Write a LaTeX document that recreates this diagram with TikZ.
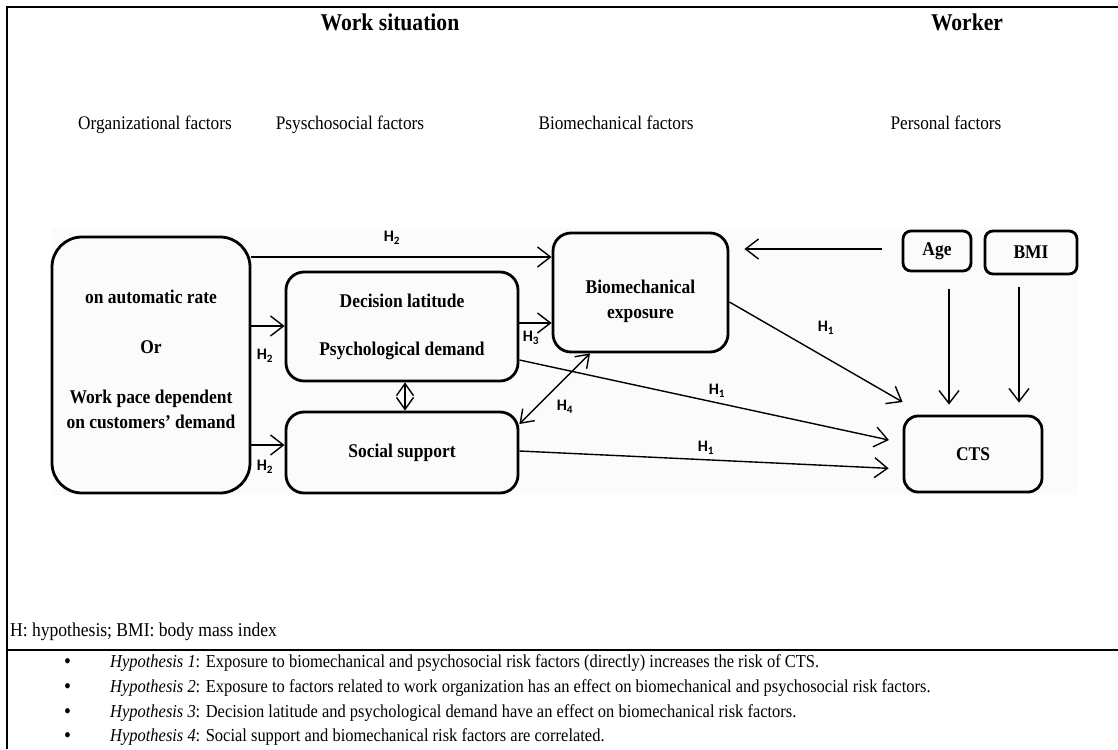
\documentclass[tikz,border=0pt]{standalone}
\usepackage{fontspec}
\setmainfont{Liberation Serif}[FakeStretch=0.9]
\newfontfamily\hfont{Carlito}
\usetikzlibrary{arrows.meta}
\begin{document}
\begin{tikzpicture}[x=1pt,y=-1pt,
  box/.style={draw, line width=2.8pt, rounded corners=#1, inner sep=0pt},
  box/.default=18pt,
  btxt/.style={font=\fontsize{19.4}{25}\selectfont\bfseries, align=center, inner sep=0pt},
  head/.style={font=\fontsize{24}{28}\selectfont\bfseries, inner sep=0pt},
  sub/.style={font=\fontsize{19.2}{22}\selectfont, inner sep=0pt, anchor=base},
  note/.style={font=\fontsize{18.3}{21}\selectfont, inner sep=0pt, anchor=base west},
  hl/.style={font=\hfont\bfseries\fontsize{16}{19}\selectfont, inner sep=0pt},
  arr/.style={-{Straight Barb[length=13pt,width=20pt]}, line width=1.4pt},
  darr/.style={{Straight Barb[length=12pt,width=17pt]}-{Straight Barb[length=12pt,width=17pt]}, line width=1.4pt},
  frame/.style={line width=2.6pt}
]
\useasboundingbox (0,0) rectangle (1118,749);
% faint background of the diagram
\fill[black!1.5] (52,228) rectangle (1077,495);
% frame
\draw[frame] (1118,7) -- (7,7) -- (7,749);
\draw[frame] (7,650) -- (1118,650);

% headings
\node[head] (ws) at (390,22) {Work situation};
\node[head] (wk) at (967,22) {Worker};
\node[sub] (of) at (155,129) {Organizational factors};
\node[sub] (pf) at (350,129) {Psyschosocial factors};
\node[sub] (bf) at (616,129) {Biomechanical factors};
\node[sub] (perf) at (946,129) {Personal factors};

% boxes
\node[box=30pt, minimum width=198pt, minimum height=256pt] (big) at (151,365) {};
\node[box, minimum width=232pt, minimum height=109pt] (dec) at (402,326.5) {};
\node[box, minimum width=232pt, minimum height=81pt] (soc) at (402,452.5) {};
\node[box, minimum width=175pt, minimum height=119pt] (bio) at (640.5,292.5) {};
\node[box=8pt, minimum width=68pt, minimum height=40pt] (age) at (937,251) {};
\node[box=8pt, minimum width=92pt, minimum height=43pt] (bmi) at (1031,252.5) {};
\node[box=14pt, minimum width=138pt, minimum height=76pt] (cts) at (973,454) {};

% box texts
\node[btxt] (t1) at (151,297) {on automatic rate};
\node[btxt] (t2) at (151,347) {Or};
\node[btxt] (t3) at (151,409.5) {Work pace dependent\\on customers’ demand};
\node[btxt] (t4) at (402,301) {Decision latitude};
\node[btxt] (t5) at (402,351) {Psychological demand};
\node[btxt] (t6) at (402,452.5) {Social support};
\node[btxt] (t7) at (640.5,301) {Biomechanical\\exposure};
\node[btxt] (t8) at (937,251) {Age};
\node[btxt] (t9) at (1031,252) {BMI};
\node[btxt] (t10) at (973,454) {CTS};

% connectors
\draw[arr] (big.east |- 0,257) -- (bio.west |- 0,257);
\draw[arr] (big.east |- 0,326) -- (dec.west |- 0,326);
\draw[arr] (big.east |- 0,445) -- (soc.west |- 0,445);
\draw[arr] (dec.east |- 0,323) -- (bio.west |- 0,323);
\draw[darr] (dec.south -| 405,0) -- (soc.north -| 405,0);
\draw[darr] (soc.east |- 0,424) -- (bio.south -| 590,0);
\draw[arr, shorten <=20pt, shorten >=15pt] (age.west |- 0,249) -- (bio.east |- 0,249);
\draw[arr] (bio.east |- 0,302) -- (cts.west |- 0,402);
\draw[arr, shorten >=14pt] (dec.east |- 0,360) -- (cts.west |- 0,443);
\draw[arr, shorten >=14pt] (soc.east |- 0,451) -- (cts.west |- 0,469);
\draw[arr, shorten <=17pt, shorten >=10pt] ([xshift=12pt]age.south) -- ([xshift=12pt]age.south |- cts.north);
\draw[arr, shorten <=12pt, shorten >=12pt] ([xshift=-12pt]bmi.south) -- ([xshift=-12pt]bmi.south |- cts.north);

% hypothesis labels
\node[hl] (h2a) at (392,238) {H\textsubscript{2}};
\node[hl] (h2b) at (265,356) {H\textsubscript{2}};
\node[hl] (h2c) at (265,467) {H\textsubscript{2}};
\node[hl] (h3) at (531,338) {H\textsubscript{3}};
\node[hl] (h4) at (565,407) {H\textsubscript{4}};
\node[hl] (h1a) at (826,328) {H\textsubscript{1}};
\node[hl] (h1b) at (717,391) {H\textsubscript{1}};
\node[hl] (h1c) at (706,448) {H\textsubscript{1}};

% notes
\node[note, font=\fontsize{19.5}{23}\selectfont] (abbr) at (10,636) {H: hypothesis; BMI: body mass index};
\node[note, font=\fontsize{22}{24}\selectfont] (b1) at (64,668) {•};
\node[note, font=\fontsize{22}{24}\selectfont] (b2) at (64,693) {•};
\node[note, font=\fontsize{22}{24}\selectfont] (b3) at (64,718) {•};
\node[note, font=\fontsize{22}{24}\selectfont] (b4) at (64,742) {•};
\node[note] (n1) at (110,667) {\textit{Hypothesis 1}: Exposure to biomechanical and psychosocial risk factors (directly) increases the risk of CTS.};
\node[note] (n2) at (110,692) {\textit{Hypothesis 2}: Exposure to factors related to work organization has an effect on biomechanical and psychosocial risk factors.};
\node[note] (n3) at (110,717) {\textit{Hypothesis 3}: Decision latitude and psychological demand have an effect on biomechanical risk factors.};
\node[note] (n4) at (110,741) {\textit{Hypothesis 4}: Social support and biomechanical risk factors are correlated.};
\end{tikzpicture}
\end{document}
